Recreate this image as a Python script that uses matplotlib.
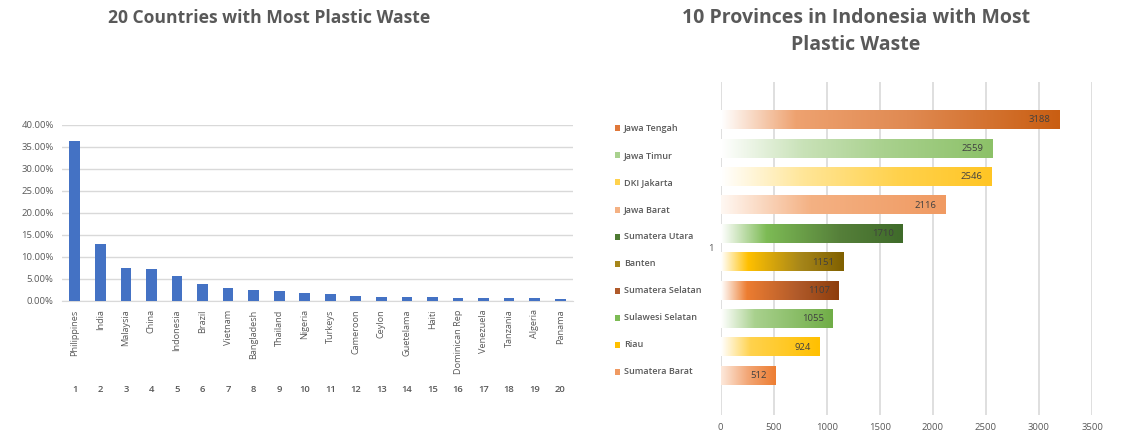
import matplotlib
matplotlib.use("Agg")
import matplotlib.pyplot as plt
import numpy as np
from matplotlib.colors import LinearSegmentedColormap
from matplotlib.patches import Rectangle
import matplotlib.transforms as mtransforms

# ---------------- data ----------------
countries = ["Philippines", "India", "Malaysia", "China", "Indonesia", "Brazil",
             "Vietnam", "Bangladesh", "Thailand", "Nigeria", "Turkeys", "Cameroon",
             "Ceylon", "Guetelama", "Haiti", "Dominican Rep", "Venezuela",
             "Tanzania", "Algeria", "Panama"]
ranks = [str(i) for i in range(1, 21)]
shares = [36.38, 12.92, 7.46, 7.22, 5.75, 3.86, 2.89, 2.52, 2.30, 1.85, 1.53,
          1.12, 1.01, 0.82, 0.80, 0.71, 0.63, 0.61, 0.60, 0.48]
y_ticks_pct = [0, 5, 10, 15, 20, 25, 30, 35, 40]

provinces = ["Jawa Tengah", "Jawa Timur", "DKI Jakarta", "Jawa Barat",
             "Sumatera Utara", "Banten", "Sumatera Selatan", "Sulawesi Selatan",
             "Riau", "Sumatera Barat"]
waste = [3188, 2559, 2546, 2116, 1710, 1151, 1107, 1055, 924, 512]
x_ticks_w = [0, 500, 1000, 1500, 2000, 2500, 3000, 3500]

# gradient fills per bar (position, colour)
gradients = [
    [(0, "#ffffff"), (0.22, "#eea270"), (0.55, "#e08a52"), (1, "#c95e12")],
    [(0, "#ffffff"), (0.30, "#c9e2b8"), (0.60, "#a9d18e"), (1, "#8cc168")],
    [(0, "#ffffff"), (0.30, "#ffe699"), (0.65, "#ffd24d"), (1, "#ffc524")],
    [(0, "#fff8f3"), (0.40, "#f4b183"), (1, "#f09a62")],
    [(0, "#ffffff"), (0.25, "#7dbb55"), (0.65, "#56803a"), (1, "#3f6b2a")],
    [(0, "#ffffff"), (0.22, "#ffc000"), (0.65, "#a6861a"), (1, "#806000")],
    [(0, "#ffffff"), (0.22, "#ed7d31"), (0.65, "#b05a2a"), (1, "#8e3d0c")],
    [(0, "#ffffff"), (0.30, "#a9d18e"), (1, "#70ad47")],
    [(0, "#ffffff"), (0.30, "#ffd24d"), (1, "#ffc000")],
    [(0, "#fde9dc"), (0.50, "#f2a574"), (1, "#ed7d31")],
]
legend_colors = ["#e0783a", "#a9d18e", "#ffd24d", "#f4b183", "#4e7a32",
                 "#a6861a", "#b05a2a", "#7dbb55", "#ffc000", "#f09a62"]

TXT = "#595959"
GRID = "#d9d9d9"
FONT = "Open Sans"

W, H = 1126, 438
fig = plt.figure(figsize=(W / 100, H / 100), dpi=100)


def fx(px):
    return px / W


def fy(py):
    return 1 - py / H


# ---------------- left chart ----------------
axL = fig.add_axes([fx(62), fy(301), fx(573 - 62), fy(124.7) - fy(301)])
x = np.arange(len(countries))
axL.bar(x, np.array(shares) / 100, width=0.42, color="#4472c4", zorder=3)
axL.set_xlim(-0.5, len(countries) - 0.5)
axL.set_ylim(0, 0.40)
axL.set_yticks(np.array(y_ticks_pct) / 100)
axL.set_yticklabels([f"{v:.2f}%" for v in y_ticks_pct], fontsize=6.8,
                    color=TXT, family=FONT)
axL.yaxis.grid(True, color=GRID, linewidth=1.0, zorder=0)
for s in ["top", "right", "left"]:
    axL.spines[s].set_visible(False)
axL.spines["bottom"].set_color(GRID)
axL.tick_params(axis="y", length=0, pad=6)
axL.tick_params(axis="x", length=0, pad=6)
axL.set_xticks(x)
axL.set_xticklabels(countries, rotation=90, fontsize=6.6, color=TXT,
                    family=FONT, va="top")
trL = mtransforms.blended_transform_factory(axL.transData, fig.transFigure)
for xi, r in zip(x, ranks):
    axL.text(xi, fy(390), r, transform=trL, ha="center", va="center",
             fontsize=6.8, color=TXT, family=FONT, fontweight="semibold")

fig.text(fx(269), fy(18), "20 Countries with Most Plastic Waste", ha="center",
         va="center", fontsize=12.6, fontweight="bold", color=TXT, family=FONT)

# ---------------- right chart ----------------
x0p, x1p = 720.7, 1092.0
axR = fig.add_axes([fx(x0p), fy(415), fx(x1p - x0p), fy(81.7) - fy(415)])
pitch = 28.41
y0 = 120.0
axR.set_xticks(x_ticks_w)
axR.set_xticklabels([str(v) for v in x_ticks_w], fontsize=6.8, color=TXT,
                    family=FONT)
axR.xaxis.grid(True, color=GRID, linewidth=1.2, zorder=0)
axR.set_axisbelow(True)
for s in ["top", "right", "left", "bottom"]:
    axR.spines[s].set_visible(False)
axR.tick_params(axis="x", length=0, pad=6)
axR.tick_params(axis="y", length=0, pad=5)
axR.set_yticks([(len(provinces) - 1) / 2])
axR.set_yticklabels(["1"], fontsize=6.8, color=TXT, family=FONT)

bh = 0.64
for i, (name, val, grad) in enumerate(zip(provinces, waste, gradients)):
    cmap = LinearSegmentedColormap.from_list(name, grad)
    img = np.linspace(0, 1, 256).reshape(1, -1)
    axR.imshow(img, cmap=cmap, extent=[0, val, i + bh / 2, i - bh / 2],
               aspect="auto", zorder=3, interpolation="bilinear")
    axR.annotate(str(val), (val, i), xytext=(-6, 0), textcoords="offset points",
                 ha="right", va="center", fontsize=6.8, color="#404040",
                 family=FONT, zorder=5)
axR.set_xlim(0, 3500)
axR.set_ylim((415 - y0) / pitch, (81.7 - y0) / pitch)

# legend (manual, left of the bars)
for i, (name, c) in enumerate(zip(provinces, legend_colors)):
    yy = 128.3 + 27.07 * i
    fig.add_artist(Rectangle((fx(614.5), fy(yy + 3)), fx(5.5), fy(yy - 3) - fy(yy + 3),
                             transform=fig.transFigure, facecolor=c,
                             edgecolor="none"))
    fig.text(fx(624), fy(yy), name, ha="left", va="center", fontsize=6.5,
             color=TXT, family=FONT, fontweight="semibold")

fig.text(fx(856), fy(18), "10 Provinces in Indonesia with Most", ha="center",
         va="center", fontsize=14, fontweight="bold", color=TXT, family=FONT)
fig.text(fx(856), fy(45), "Plastic Waste", ha="center",
         va="center", fontsize=14, fontweight="bold", color=TXT, family=FONT)

fig.savefig("out.png", dpi=100, facecolor="white")
